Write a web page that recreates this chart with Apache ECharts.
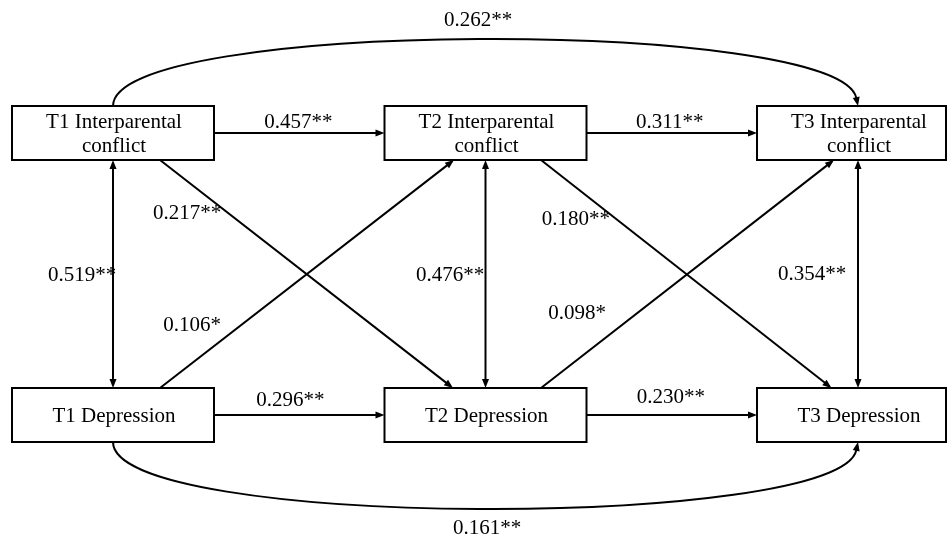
<!DOCTYPE html>
<html>
<head>
<meta charset="utf-8">
<script src="https://cdn.jsdelivr.net/npm/echarts@6/dist/echarts.min.js"></script>
<style>
html,body{margin:0;padding:0;background:#fff;}
#chart{width:948px;height:540px;}
</style>
</head>
<body>
<div id="chart"></div>
<script>
// ---- data ----
const nodeNames = ['T1 Interparental\nconflict', 'T2 Interparental\nconflict', 'T3 Interparental\nconflict',
                   'T1 Depression', 'T2 Depression', 'T3 Depression'];
const nodeWave = [0, 1, 2, 0, 1, 2];      // time point (column)
const nodeConstruct = [0, 0, 0, 1, 1, 1]; // 0 = interparental conflict, 1 = depression
const pathFrom = [0, 1, 3, 4, 0, 1, 2, 0, 3, 1, 4, 0, 3];
const pathTo   = [1, 2, 4, 5, 3, 4, 5, 4, 1, 5, 2, 2, 5];
const pathCoef = ['0.457**', '0.311**', '0.296**', '0.230**', '0.519**', '0.476**', '0.354**',
                  '0.217**', '0.106*', '0.180**', '0.098*', '0.262**', '0.161**'];

// ---- layout / style (pixels) ----
const BOX_HW = 101, BOX_HH = 27;
const FONT = '21px "Liberation Serif", "Times New Roman", serif';
const LW = 2;
const AR_LEN = 9, AR_HW = 3.5;
const ARC_LIFT = 88;
const ARC_END_SHIFT = 18;
// per path: [start dx, end dx] for diagonals, label offset [dx, dy] from anchor
const diagDx = {7: [47, -32.5], 8: [47, -31.5], 9: [55.5, -26.5], 10: [55.5, -24]};
const labelOff = [[-1, -11], [-2, -11], [-9, -15], [-1, -18], [-31, 1], [-35.5, 1], [-46, 0],
                  [-119.5, -61], [-115, 51], [-110.5, -55], [-110.5, 39], [-7.5, -20], [1.5, 20]];

function arrowHead(tx, ty, dx, dy) {
  const L = Math.hypot(dx, dy); const ux = dx / L, uy = dy / L;
  const bx = tx - ux * AR_LEN, by = ty - uy * AR_LEN;
  return {type: 'polygon', shape: {points: [[tx, ty], [bx - uy * AR_HW, by + ux * AR_HW], [bx + uy * AR_HW, by - ux * AR_HW]]},
          style: {fill: '#000', stroke: null}};
}
function line(x1, y1, x2, y2) {
  return {type: 'line', shape: {x1, y1, x2, y2}, style: {stroke: '#000', lineWidth: LW, fill: null}};
}

function renderNode(params, api) {
  const i = params.dataIndex;
  const c = api.coord([nodeWave[i], nodeConstruct[i]]);
  const left = c[0] - BOX_HW;
  const right = Math.min(c[0] + BOX_HW, api.getWidth() - 2);
  return {type: 'group', children: [
    {type: 'rect', shape: {x: left, y: c[1] - BOX_HH, width: right - left, height: 2 * BOX_HH},
     style: {fill: '#fff', stroke: '#000', lineWidth: LW}},
    {type: 'text', style: {text: nodeNames[i], x: c[0] + 1, y: c[1] + 1, font: FONT, fill: '#000',
     align: 'center', verticalAlign: 'middle', lineHeight: 24}}
  ]};
}

function renderPath(params, api) {
  const i = params.dataIndex;
  const a = pathFrom[i], b = pathTo[i];
  const pa = api.coord([nodeWave[a], nodeConstruct[a]]);
  const pb = api.coord([nodeWave[b], nodeConstruct[b]]);
  const ch = [];
  let ax, ay;
  const sameRow = nodeConstruct[a] === nodeConstruct[b];
  const sameCol = nodeWave[a] === nodeWave[b];
  if (sameRow && Math.abs(nodeWave[b] - nodeWave[a]) === 1) {
    const x1 = pa[0] + BOX_HW, x2 = pb[0] - BOX_HW, y = pa[1];
    ch.push(line(x1, y, x2 - AR_LEN + 1, y));
    ch.push(arrowHead(x2, y, 1, 0));
    ax = (x1 + x2) / 2; ay = y;
  } else if (sameCol) {
    const x = pa[0], y1 = pa[1] + BOX_HH, y2 = pb[1] - BOX_HH;
    ch.push(line(x, y1 + AR_LEN - 1, x, y2 - AR_LEN + 1));
    ch.push(arrowHead(x, y1, 0, -1));
    ch.push(arrowHead(x, y2, 0, 1));
    ax = x; ay = (y1 + y2) / 2;
  } else if (!sameRow) {
    const d = diagDx[i];
    const sgn = nodeConstruct[b] > nodeConstruct[a] ? 1 : -1;
    const x1 = pa[0] + d[0], y1 = pa[1] + sgn * BOX_HH;
    const x2 = pb[0] + d[1], y2 = pb[1] - sgn * BOX_HH;
    const L = Math.hypot(x2 - x1, y2 - y1);
    const ux = (x2 - x1) / L, uy = (y2 - y1) / L;
    ch.push(line(x1, y1, x2 - ux * (AR_LEN - 1), y2 - uy * (AR_LEN - 1)));
    ch.push(arrowHead(x2, y2, x2 - x1, y2 - y1));
    ax = (x1 + x2) / 2; ay = (y1 + y2) / 2;
  } else {
    const up = nodeConstruct[a] === 0 ? -1 : 1;
    const y0 = pa[1] + up * BOX_HH;
    const cy = y0 + up * ARC_LIFT;
    const cpx2 = pb[0] - ARC_END_SHIFT;
    // arrow direction = tangent at end (from cp2 to end)
    const ddx = pb[0] - cpx2, ddy = y0 - cy;
    const L = Math.hypot(ddx, ddy);
    const ex = pb[0] - ddx / L * (AR_LEN - 1), ey = y0 - ddy / L * (AR_LEN - 1);
    ch.push({type: 'bezierCurve', shape: {x1: pa[0], y1: y0, cpx1: pa[0], cpy1: cy, cpx2: cpx2, cpy2: cy, x2: ex, y2: ey},
             style: {stroke: '#000', lineWidth: LW, fill: null}});
    ch.push(arrowHead(pb[0], y0, ddx, ddy));
    ax = (pa[0] + pb[0]) / 2; ay = y0 + up * ARC_LIFT * 0.75;
  }
  const o = labelOff[i];
  ch.push({type: 'text', style: {text: pathCoef[i], x: ax + o[0], y: ay + o[1], font: FONT, fill: '#000',
           align: 'center', verticalAlign: 'middle'}});
  return {type: 'group', children: ch};
}

const chart = echarts.init(document.getElementById('chart'), null, {renderer: 'canvas'});
chart.setOption({
  animation: false,
  backgroundColor: '#fff',
  grid: {left: 113, right: 90, top: 133, bottom: 125},
  xAxis: {type: 'value', min: 0, max: 2, show: false},
  yAxis: {type: 'value', min: 0, max: 1, inverse: true, show: false},
  series: [
    {type: 'custom', renderItem: renderPath, clip: false, silent: true,
     data: pathCoef.map((c, i) => [nodeWave[pathFrom[i]], nodeConstruct[pathFrom[i]], i]), z: 1},
    {type: 'custom', renderItem: renderNode, clip: false, silent: true,
     data: nodeNames.map((n, i) => [nodeWave[i], nodeConstruct[i], i]), z: 2}
  ]
});
</script>
</body>
</html>
